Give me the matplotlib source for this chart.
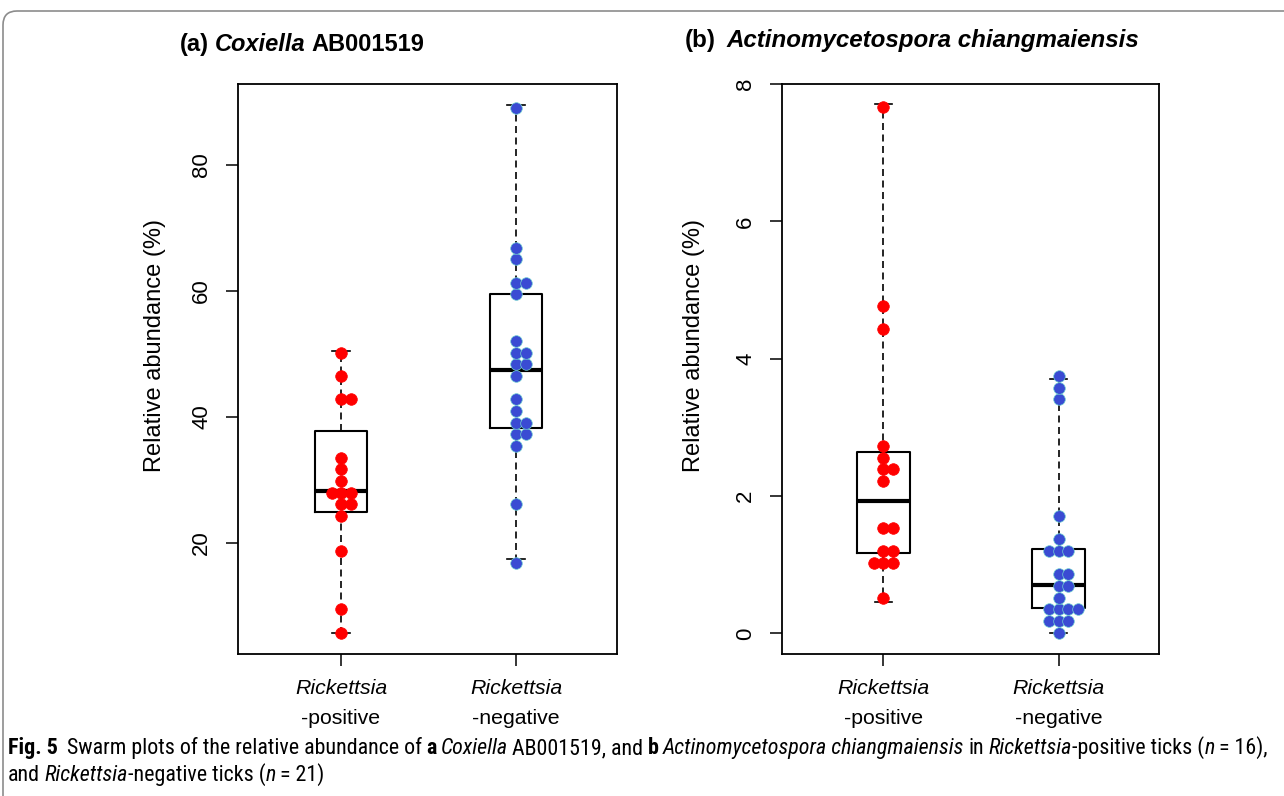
import numpy as np
import matplotlib
matplotlib.use('Agg')
import matplotlib.pyplot as plt
from matplotlib.patches import FancyBboxPatch
from matplotlib.transforms import IdentityTransform, blended_transform_factory
from matplotlib import font_manager

# relative abundance (%) per tick
coxiella_pos = [50.4, 46.5, 42.8, 42.0, 33.4, 31.7, 29.9, 28.6, 28.0, 27.8, 26.2, 25.5, 24.3, 18.7, 9.5, 5.7]
coxiella_neg = [89.6, 66.8, 64.9, 61.3, 61.3, 59.5, 52.1, 50.1, 50.1, 48.3, 47.5, 46.5, 42.8, 41.0,
                39.1, 38.3, 37.3, 37.3, 35.4, 26.2, 17.4]
actino_pos = [7.71, 4.76, 4.43, 2.73, 2.56, 2.39, 2.39, 2.26, 1.60, 1.54, 1.26, 1.24, 1.10, 1.03, 1.03, 0.46]
actino_neg = [3.71, 3.58, 3.40, 1.71, 1.36, 1.23, 1.20, 1.18, 0.86, 0.86, 0.70, 0.68, 0.52, 0.40,
              0.37, 0.37, 0.33, 0.18, 0.18, 0.18, 0.00]

group_names = ['Rickettsia', 'Rickettsia']
group_suffix = ['-positive', '-negative']
y_ticks_a = [20, 40, 60, 80]
y_ticks_b = [0, 2, 4, 6, 8]

RED = '#ff0000'
BLUE = '#3a4bd3'
W, H = 1284, 796

plt.rcParams['font.family'] = 'Liberation Sans'

available = {f.name for f in font_manager.fontManager.ttflist}
caption_family = 'Liberation Sans'
for name in ['Liberation Sans Narrow', 'Roboto Condensed', 'Open Sans Condensed']:
    if name in available:
        caption_family = name
        break


def fivenum(v):
    # Tukey hinges, like R's boxplot
    v = np.sort(np.asarray(v, dtype=float))
    n = len(v)
    n4 = np.floor((n + 3) / 2) / 2
    d = np.array([1, n4, (n + 1) / 2, n + 1 - n4, n]) - 1
    return 0.5 * (v[np.floor(d).astype(int)] + v[np.ceil(d).astype(int)])


def swarm_xy(values, center, anchor, step, dx):
    # square beeswarm: bin the values, spread each bin sideways
    bins = np.round((np.asarray(values) - anchor) / step).astype(int)
    xs, ys = [], []
    for b in np.unique(bins):
        n = int(np.sum(bins == b))
        offs = np.arange(1, n + 1) - np.ceil(n / 2)
        xs.extend(center + offs * dx)
        ys.extend([anchor + b * step] * n)
    return xs, ys


fig = plt.figure(figsize=(W / 100, H / 100), dpi=100)

panels = [
    dict(rect=[238 / W, 1 - 654 / H, 379 / W, 570 / H], groups=(coxiella_pos, coxiella_neg),
         ylim=(2.38, 92.86), yticks=y_ticks_a, anchor=46.5, step=1.852, xlim=(0.411, 2.577),
         ylab_x=-0.190),
    dict(rect=[782 / W, 1 - 654 / H, 377 / W, 570 / H], groups=(actino_pos, actino_neg),
         ylim=(-0.30, 8.0), yticks=y_ticks_b, anchor=3.75, step=0.170, xlim=(0.422, 2.572),
         ylab_x=-0.205),
]

for p in panels:
    ax = fig.add_axes(p['rect'])
    stats = []
    for i, (vals, color) in enumerate(zip(p['groups'], [RED, BLUE]), start=1):
        xs, ys = swarm_xy(vals, i, p['anchor'], p['step'], 0.0543)
        edge = '#6fd0d0' if color == BLUE else color
        ax.scatter(xs, ys, s=70, color=color, edgecolors=edge, linewidths=0.5, zorder=3)
        f = fivenum(vals)
        stats.append(dict(whislo=f[0], q1=f[1], med=f[2], q3=f[3], whishi=f[4], fliers=[]))
    ax.bxp(stats, positions=[1, 2], widths=0.30, capwidths=0.10, showfliers=False,
           boxprops=dict(color='black', linewidth=1.5),
           medianprops=dict(color='black', linewidth=3.0, solid_capstyle='butt'),
           whiskerprops=dict(color='black', linewidth=1.2, linestyle=(0, (4.2, 2.7))),
           capprops=dict(color='black', linewidth=1.2))
    ax.set_xlim(*p['xlim'])
    ax.set_ylim(*p['ylim'])
    ax.set_yticks(p['yticks'])
    ax.set_xticks([1, 2])
    ax.set_xticklabels([])
    ax.tick_params(direction='out', length=8.6, width=1.1, labelsize=16, pad=10)
    for t in ax.get_yticklabels():
        t.set_rotation(90)
        t.set_va('center')
    for s in ax.spines.values():
        s.set_linewidth(1.3)
    ax.set_ylabel('Relative abundance (%)', fontsize=17)
    ax.yaxis.set_label_coords(p['ylab_x'], 0.542)
    tr = blended_transform_factory(ax.transData, ax.transAxes)
    for i, (nm, suf) in enumerate(zip(group_names, group_suffix), start=1):
        ax.text(i, -0.061, nm, transform=tr, ha='center', va='center', fontsize=15.3, style='italic')
        ax.text(i, -0.114, suf, transform=tr, ha='center', va='center', fontsize=15.3)

renderer = fig.canvas.get_renderer()


def draw_rich(x, y, pieces, size, family, space_em=0.26):
    # pieces: (text, weight, style, spaces before); x, y in pixels, baseline
    space = size * 100 / 72 * space_em
    for text, weight, style, gap in pieces:
        x += gap * space
        t = fig.text(x, y, text, transform=IdentityTransform(), fontsize=size, family=family,
                     fontweight=weight, fontstyle=style, va='baseline', ha='left')
        x = t.get_window_extent(renderer).x1
    return x


draw_rich(180, H - 51, [('(a)', 'bold', 'normal', 0), ('Coxiella', 'bold', 'italic', 1),
                        ('AB001519', 'bold', 'normal', 1)], 17, 'Liberation Sans')
draw_rich(685, H - 47, [('(b)', 'bold', 'normal', 0),
                        ('Actinomycetospora chiangmaiensis', 'bold', 'italic', 1.6)], 17.4, 'Liberation Sans')

cap_size = 15.8
line1 = [('Fig. 5', 'bold', 'normal', 0),
         ('Swarm plots of the relative abundance of', 'normal', 'normal', 2),
         ('a', 'bold', 'normal', 1), ('Coxiella', 'normal', 'italic', 1),
         ('AB001519, and', 'normal', 'normal', 1), ('b', 'bold', 'normal', 1),
         ('Actinomycetospora chiangmaiensis', 'normal', 'italic', 1),
         ('in', 'normal', 'normal', 1), ('Rickettsia', 'normal', 'italic', 1),
         ('-positive ticks (', 'normal', 'normal', 0), ('n', 'normal', 'italic', 0),
         ('= 16),', 'normal', 'normal', 1)]
line2 = [('and', 'normal', 'normal', 0), ('Rickettsia', 'normal', 'italic', 1),
         ('-negative ticks (', 'normal', 'normal', 0), ('n', 'normal', 'italic', 0),
         ('= 21)', 'normal', 'normal', 1)]
draw_rich(8, H - 754, line1, cap_size, caption_family, 0.2)
draw_rich(8, H - 781, line2, cap_size, caption_family, 0.2)

frame = FancyBboxPatch((3, -30), 1320, H - 11 + 30, boxstyle='round,pad=0,rounding_size=14',
                       transform=IdentityTransform(), fill=False, edgecolor='#8c8c8c', linewidth=1.2)
fig.add_artist(frame)

fig.savefig('out.png', dpi=100)
